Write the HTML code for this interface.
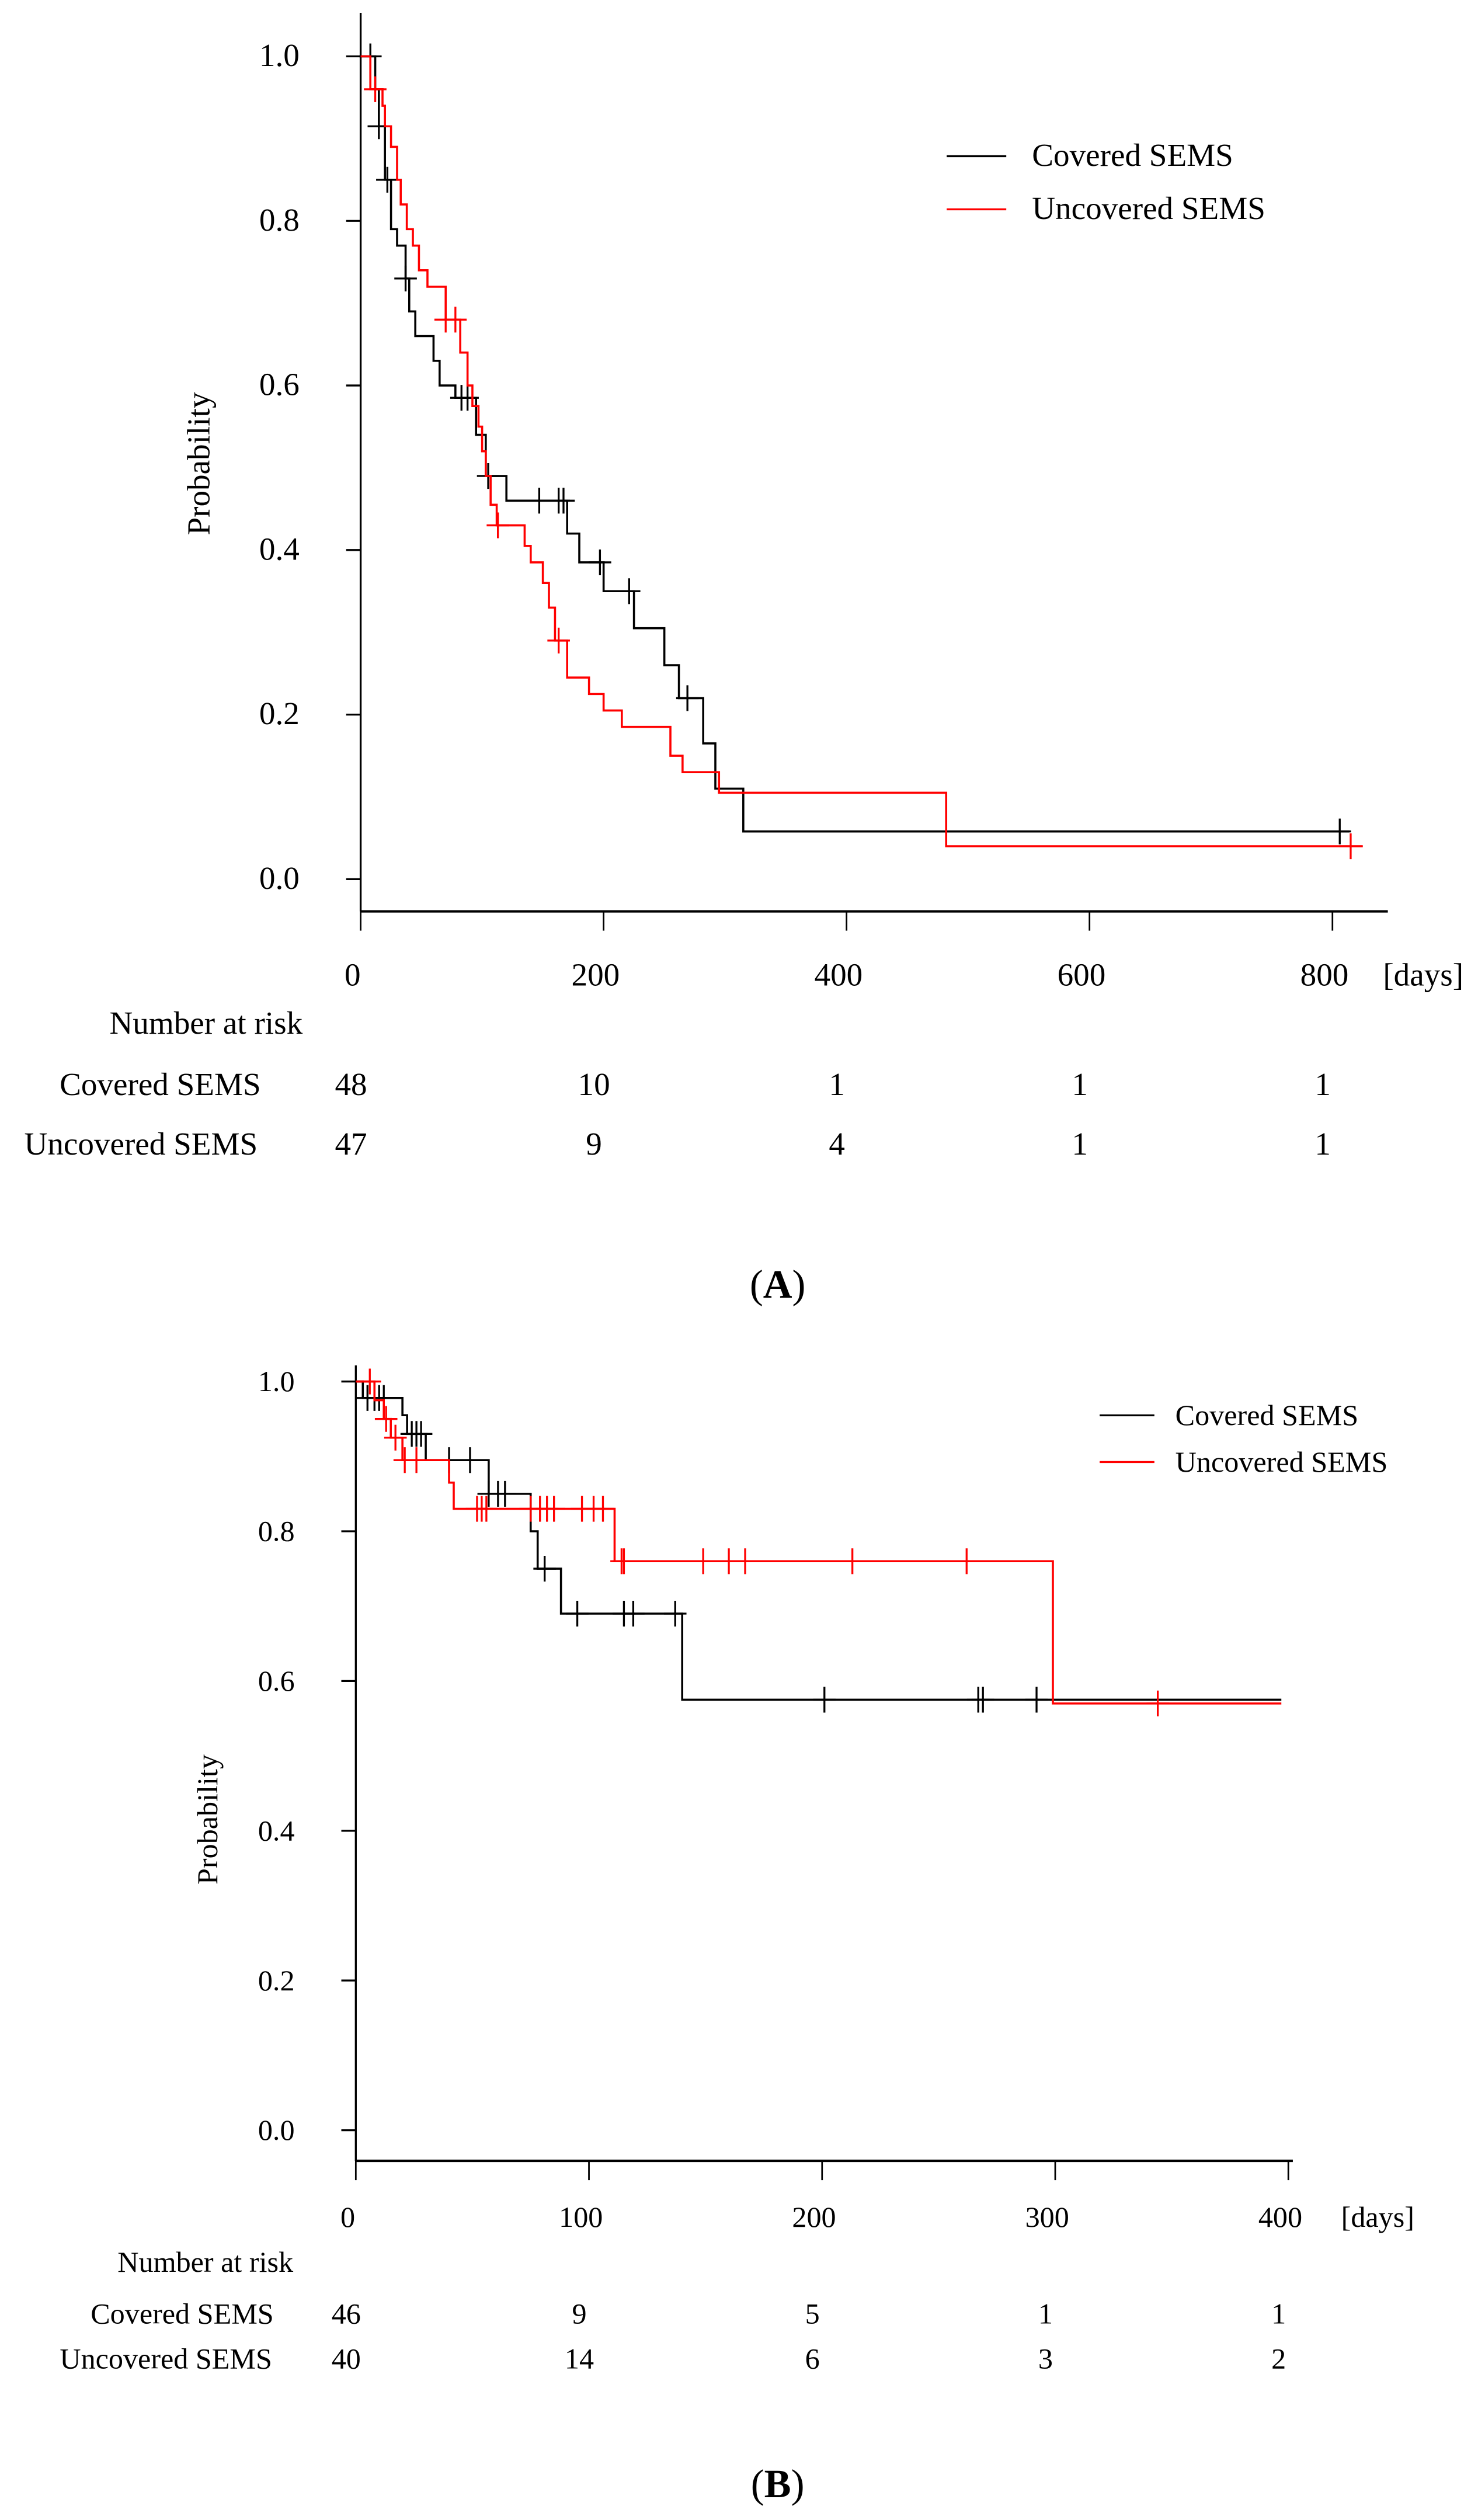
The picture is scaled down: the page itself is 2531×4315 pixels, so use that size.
<!DOCTYPE html>
<html><head><meta charset="utf-8"><style>
html,body{margin:0;padding:0;background:#fff;}
svg{display:block;}
text{font-family:"Liberation Serif",serif;fill:#000;}
</style></head><body>
<svg id="fig" width="2531" height="4315" viewBox="0 0 918 1565.06" xmlns="http://www.w3.org/2000/svg">
<g id="pa"></g>
<g id="pb"></g>
</svg>
<script>
// ---------- Panel A data ----------
const aTicksX = [0,200,400,600,800];
const aTicksY = [0,0.2,0.4,0.6,0.8,1.0];
const aRiskCovered = [48,10,1,1,1];
const aRiskUncovered = [47,9,4,1,1];
const aCovTimes = [12,15,20,25,30,37,40,45,60,65,78,95,103,120,170,180,200,225,250,262,282,292,315];
const aCovSurv  = [0.96,0.915,0.85,0.79,0.77,0.73,0.69,0.66,0.63,0.60,0.585,0.54,0.49,0.46,0.42,0.385,0.35,0.305,0.26,0.22,0.165,0.11,0.058];
const aCovCens  = [8,15,22,37,83,88,105,147,163,167,197,221,269,806];
const aCovEnd = 814;
const aUncTimes = [8,18,20,25,30,33,38,43,48,55,70,82,88,92,97,100,103,107,112,135,140,150,155,160,170,188,200,215,255,265,295,482];
const aUncSurv  = [0.96,0.94,0.915,0.89,0.85,0.82,0.79,0.77,0.74,0.72,0.68,0.64,0.60,0.575,0.55,0.52,0.49,0.455,0.43,0.405,0.385,0.36,0.33,0.29,0.245,0.225,0.205,0.185,0.15,0.13,0.105,0.04];
const aUncCens  = [12,70,78,113,163,815];
const aUncEnd = 825;
// ---------- Panel B data ----------
const bTicksX = [0,100,200,300,400];
const bTicksY = [0,0.2,0.4,0.6,0.8,1.0];
const bRiskCovered = [46,9,5,1,1];
const bRiskUncovered = [40,14,6,3,2];
const bCovTimes = [3,20,22,30,57,75,78,88,140];
const bCovSurv  = [0.978,0.955,0.93,0.895,0.85,0.80,0.75,0.69,0.575];
const bCovCens  = [5,8,10,12,24,26,28,40,49,57,61,64,81,95,115,119,137,201,267,269,292];
const bCovEnd = 397;
const bUncTimes = [8,12,15,20,40,42,111,299];
const bUncSurv  = [0.975,0.95,0.925,0.895,0.865,0.83,0.76,0.57];
const bUncCens  = [6,13,17,21,26,52,54,56,75,79,82,85,97,102,106,114,115,149,160,167,213,262,344];
const bUncEnd = 397;

const NS = "http://www.w3.org/2000/svg";
function mk(parent, tag, attrs, txt){
  const e = document.createElementNS(NS, tag);
  for (const k in attrs) e.setAttribute(k, attrs[k]);
  if (txt !== undefined) e.textContent = txt;
  parent.appendChild(e);
  return e;
}
function survAt(times, surv, t){ let s=1; for(let i=0;i<times.length;i++){ if(times[i]<=t) s=surv[i]; } return s; }

function panel(g, cfg){
  const X = d => cfg.x0 + d*cfg.xs;
  const Y = p => cfg.y0 - p*cfg.ys;
  const ya = mk(g,'line',{x1:cfg.x0,y1:cfg.axTop,x2:cfg.x0,y2:cfg.axBot,stroke:'#000','stroke-width':1.2});
  
  
  const xa = mk(g,'line',{x1:cfg.x0,y1:cfg.axBot,x2:cfg.axRight,y2:cfg.axBot,stroke:'#000','stroke-width':1.5});
  
  
  cfg.ticksY.forEach(v=>{
    const t = mk(g,'line',{x1:cfg.x0-9,y1:Y(v),x2:cfg.x0,y2:Y(v),stroke:'#000','stroke-width':1.2});
    
    
    const l = mk(g,'text',{x:cfg.x0-38,y:Y(v)+6,'text-anchor':'end','font-size':cfg.fs},v.toFixed(1));
    
    
  });
  cfg.ticksX.forEach((v,i)=>{
    const t = mk(g,'line',{x1:X(v),y1:cfg.axBot,x2:X(v),y2:cfg.axBot+12,stroke:'#000','stroke-width':1});
    
    
    const l = mk(g,'text',{x:X(v)-5,y:cfg.xLabY,'text-anchor':'middle','font-size':cfg.fs},String(v));
    
    
    const r1 = mk(g,'text',{x:X(v)-6,y:cfg.r1Y,'text-anchor':'middle','font-size':cfg.fs},String(cfg.risk1[i]));
    
    
    const r2 = mk(g,'text',{x:X(v)-6,y:cfg.r2Y,'text-anchor':'middle','font-size':cfg.fs},String(cfg.risk2[i]));
    
    
  });
  const du = mk(g,'text',{x:cfg.daysX,y:cfg.xLabY,'font-size':cfg.fs},'[days]');
  
  
  const yt = mk(g,'text',{x:cfg.ytX,y:cfg.ytY,'font-size':cfg.fs,'text-anchor':'middle',transform:`rotate(-90 ${cfg.ytX} ${cfg.ytY})`},'Probability');
  
  
  const nr = mk(g,'text',{x:cfg.nrX,y:cfg.nrY,'font-size':cfg.fs},'Number at risk');
  
  
  const c1 = mk(g,'text',{x:cfg.covLabR,y:cfg.r1Y,'font-size':cfg.fs,'text-anchor':'end'},'Covered SEMS');
  
  
  const c2 = mk(g,'text',{x:cfg.uncLabR,y:cfg.r2Y,'font-size':cfg.fs,'text-anchor':'end'},'Uncovered SEMS');
  
  
  cfg.series.forEach(s=>{
    let d = `M${X(0)} ${Y(1)}`;
    s.times.forEach((t,i)=>{ d += ` H${X(t)} V${Y(s.surv[i])}`; });
    d += ` H${X(s.end)}`;
    const p = mk(g,'path',{d:d,fill:'none',stroke:s.color,'stroke-width':1.3});
    
    
    s.cens.forEach(t=>{
      const yy = Y(survAt(s.times,s.surv,t));
      const c = mk(g,'path',{d:`M${X(t)} ${yy-8} V${yy+8} M${X(t)-7} ${yy} H${X(t)+7}`,stroke:s.color,'stroke-width':1.2,fill:'none'});
      
      
    });
  });
  const l1 = mk(g,'line',{x1:cfg.legX,y1:cfg.legY1,x2:cfg.legX+cfg.legW,y2:cfg.legY1,stroke:'#000','stroke-width':1.2});
  
  
  const t1 = mk(g,'text',{x:cfg.legTX,y:cfg.legY1+6,'font-size':cfg.fs},'Covered SEMS');
  
  
  const l2 = mk(g,'line',{x1:cfg.legX,y1:cfg.legY2,x2:cfg.legX+cfg.legW,y2:cfg.legY2,stroke:'#f00','stroke-width':1.2});
  
  
  const t2 = mk(g,'text',{x:cfg.legTX,y:cfg.legY2+6,'font-size':cfg.fs},'Uncovered SEMS');
  
  
  const pl = mk(g,'text',{x:cfg.letX,y:cfg.letY,'font-size':25,'text-anchor':'middle'});
  
  
  mk(pl,'tspan',{},'(');
  mk(pl,'tspan',{'font-weight':'bold'},cfg.letter);
  mk(pl,'tspan',{},')');
}

panel(document.getElementById('pa'),{
  x0:224, xs:0.7545, y0:546, ys:511, axTop:8, axBot:566, axRight:862,
  ticksX:aTicksX, ticksY:aTicksY, risk1:aRiskCovered, risk2:aRiskUncovered,
  fs:20, xLabY:612, r1Y:680, r2Y:717, daysX:859, ytX:130, ytY:288,
  nrX:68, nrY:642, covLabR:162, uncLabR:160,
  legX:588, legW:37, legY1:97, legY2:130, legTX:641,
  letX:483, letY:806, letter:'A',
  series:[
    {name:'covered-sems',color:'#000',times:aCovTimes,surv:aCovSurv,cens:aCovCens,end:aCovEnd},
    {name:'uncovered-sems',color:'#f00',times:aUncTimes,surv:aUncSurv,cens:aUncCens,end:aUncEnd}
  ]
});
panel(document.getElementById('pb'),{
  x0:221, xs:1.448, y0:1323, ys:465, axTop:848, axBot:1342, axRight:803,
  ticksX:bTicksX, ticksY:bTicksY, risk1:bRiskCovered, risk2:bRiskUncovered,
  fs:18.2, xLabY:1383, r1Y:1443, r2Y:1471, daysX:833, ytX:135, ytY:1130,
  nrX:73, nrY:1411, covLabR:170, uncLabR:169,
  legX:683, legW:34, legY1:879, legY2:908, legTX:730,
  letX:483, letY:1551, letter:'B',
  series:[
    {name:'covered-sems',color:'#000',times:bCovTimes,surv:bCovSurv,cens:bCovCens,end:bCovEnd},
    {name:'uncovered-sems',color:'#f00',times:bUncTimes,surv:bUncSurv,cens:bUncCens,end:bUncEnd}
  ]
});
</script>
</body></html>
